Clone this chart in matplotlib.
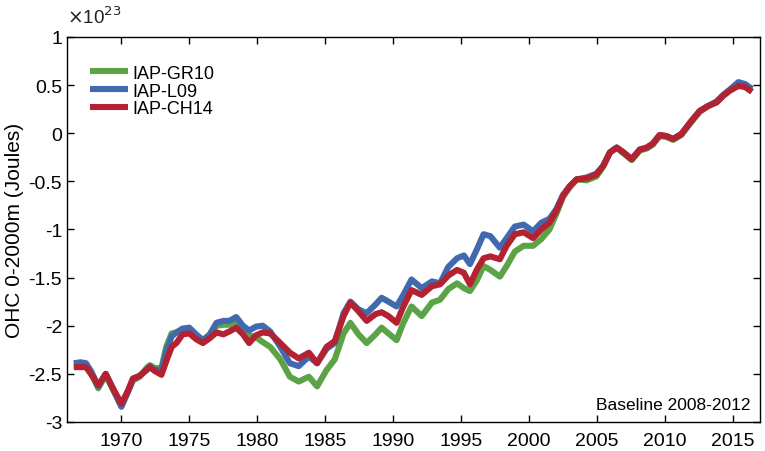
import matplotlib
matplotlib.use("Agg")
import matplotlib.pyplot as plt

plt.rcParams['font.family'] = ['Liberation Sans', 'DejaVu Sans']
plt.rcParams['axes.unicode_minus'] = False

years = [1966.5, 1967.0, 1967.4, 1967.8, 1968.3, 1968.85, 1969.3, 1970.0, 1970.5, 1970.85,
         1971.35, 1971.85, 1972.1, 1972.45, 1972.95, 1973.3, 1973.7, 1974.05, 1974.5, 1975.0,
         1975.5, 1976.0, 1976.5, 1977.0, 1977.5, 1977.95, 1978.45, 1978.95, 1979.4, 1979.9,
         1980.4, 1980.95, 1981.7, 1982.4, 1983.05, 1983.8, 1984.4, 1985.1, 1985.7, 1986.35,
         1986.85, 1987.45, 1988.05, 1988.7, 1989.15, 1989.65, 1990.25, 1990.75, 1991.35, 1992.1,
         1992.85, 1993.45, 1994.05, 1994.7, 1995.2, 1995.65, 1996.15, 1996.65, 1997.15, 1997.85,
         1998.35, 1998.95, 1999.6, 2000.3, 2000.9, 2001.5, 2002.0, 2002.5, 2003.0, 2003.5,
         2004.25, 2004.95, 2005.45, 2005.95, 2006.45, 2006.95, 2007.55, 2008.15, 2008.65, 2009.1,
         2009.6, 2010.1, 2010.6, 2011.2, 2011.85, 2012.55, 2013.15, 2013.8, 2014.3, 2014.75,
         2015.4, 2015.9, 2016.4]

gr10 = [-2.40, -2.40, -2.41, -2.50, -2.65, -2.51, -2.64, -2.84, -2.68, -2.57,
        -2.53, -2.44, -2.41, -2.44, -2.44, -2.22, -2.08, -2.07, -2.06, -2.05,
        -2.11, -2.16, -2.10, -2.00, -1.99, -1.99, -1.95, -2.05, -2.10, -2.12,
        -2.17, -2.22, -2.35, -2.53, -2.58, -2.53, -2.63, -2.46, -2.35, -2.08,
        -1.97, -2.09, -2.18, -2.09, -2.02, -2.08, -2.15, -1.97, -1.80, -1.90,
        -1.76, -1.73, -1.62, -1.56, -1.61, -1.64, -1.53, -1.38, -1.42, -1.49,
        -1.38, -1.23, -1.17, -1.17, -1.10, -1.00, -0.84, -0.66, -0.56, -0.48,
        -0.49, -0.45, -0.35, -0.20, -0.15, -0.21, -0.28, -0.18, -0.16, -0.12,
        -0.03, -0.04, -0.07, -0.02, 0.10, 0.22, 0.28, 0.32, 0.39, 0.44,
        0.50, 0.48, 0.43]

l09 = [-2.39, -2.38, -2.39, -2.48, -2.63, -2.50, -2.63, -2.84, -2.68, -2.55,
       -2.52, -2.46, -2.42, -2.46, -2.46, -2.27, -2.11, -2.07, -2.03, -2.02,
       -2.09, -2.15, -2.09, -1.97, -1.95, -1.95, -1.91, -2.00, -2.05, -2.01,
       -2.00, -2.06, -2.22, -2.39, -2.42, -2.32, -2.39, -2.24, -2.18, -1.87,
       -1.75, -1.83, -1.87, -1.78, -1.71, -1.75, -1.80, -1.68, -1.52, -1.61,
       -1.54, -1.56, -1.39, -1.30, -1.27, -1.36, -1.21, -1.05, -1.07, -1.19,
       -1.09, -0.97, -0.95, -1.02, -0.93, -0.89, -0.79, -0.64, -0.55, -0.48,
       -0.46, -0.42, -0.34, -0.20, -0.15, -0.20, -0.27, -0.17, -0.15, -0.11,
       -0.02, -0.03, -0.06, -0.01, 0.11, 0.23, 0.28, 0.33, 0.40, 0.45,
       0.53, 0.51, 0.46]

ch14 = [-2.43, -2.43, -2.43, -2.51, -2.62, -2.50, -2.63, -2.81, -2.67, -2.55,
        -2.52, -2.46, -2.43, -2.47, -2.51, -2.37, -2.22, -2.18, -2.09, -2.08,
        -2.14, -2.18, -2.13, -2.07, -2.09, -2.06, -2.02, -2.09, -2.18, -2.10,
        -2.07, -2.08, -2.18, -2.28, -2.34, -2.28, -2.39, -2.22, -2.16, -1.90,
        -1.76, -1.85, -1.95, -1.88, -1.86, -1.90, -1.97, -1.80, -1.63, -1.68,
        -1.59, -1.57, -1.48, -1.42, -1.45, -1.57, -1.42, -1.30, -1.28, -1.31,
        -1.17, -1.05, -1.03, -1.09, -1.00, -0.93, -0.81, -0.65, -0.55, -0.48,
        -0.47, -0.43, -0.34, -0.20, -0.15, -0.20, -0.27, -0.17, -0.15, -0.11,
        -0.02, -0.03, -0.06, -0.01, 0.11, 0.23, 0.28, 0.32, 0.39, 0.44,
        0.49, 0.48, 0.43]

series_names = ['IAP-GR10', 'IAP-L09', 'IAP-CH14']
colors = ['#5ba346', '#4169ae', '#b42232']
xticks = [1970, 1975, 1980, 1985, 1990, 1995, 2000, 2005, 2010, 2015]
yticks = [-3, -2.5, -2, -1.5, -1, -0.5, 0, 0.5, 1]
ytick_labels = ['-3', '-2.5', '-2', '-1.5', '-1', '-0.5', '0', '0.5', '1']

fig = plt.figure(figsize=(7.65, 4.52), dpi=100)
ax = fig.add_axes([0.0876, 0.0642, 0.906, 0.852])

for vals, name, c in zip([gr10, l09, ch14], series_names, colors):
    ax.plot(years, vals, color=c, lw=4.4, label=name, solid_capstyle='butt',
            solid_joinstyle='round')

ax.set_xlim(1966, 2017)
ax.set_ylim(-3, 1)
ax.set_xticks(xticks)
ax.set_xticklabels([str(t) for t in xticks])
ax.set_yticks(yticks)
ax.set_yticklabels(ytick_labels)
ax.tick_params(direction='in', top=True, right=True, length=5, width=1,
               labelsize=14)
ax.tick_params(axis='x', pad=7)
ax.tick_params(axis='y', pad=3.5)
for s in ax.spines.values():
    s.set_linewidth(1)
ax.set_ylabel('OHC 0-2000m (Joules)', fontsize=15, labelpad=3)

ax.text(0.0, 1.025, r'$\times$10$^{23}$', transform=ax.transAxes, fontsize=13.5,
        ha='left', va='bottom', color='#222222')
ax.text(0.986, 0.034, 'Baseline 2008-2012', transform=ax.transAxes, fontsize=12.5,
        ha='right', va='baseline')

ax.legend(loc='upper left', bbox_to_anchor=(0.033, 0.928), frameon=False,
          fontsize=13, handlelength=2.1, handletextpad=0.25, labelspacing=0.05,
          borderpad=0, borderaxespad=0)

fig.savefig('out.png', dpi=100)
